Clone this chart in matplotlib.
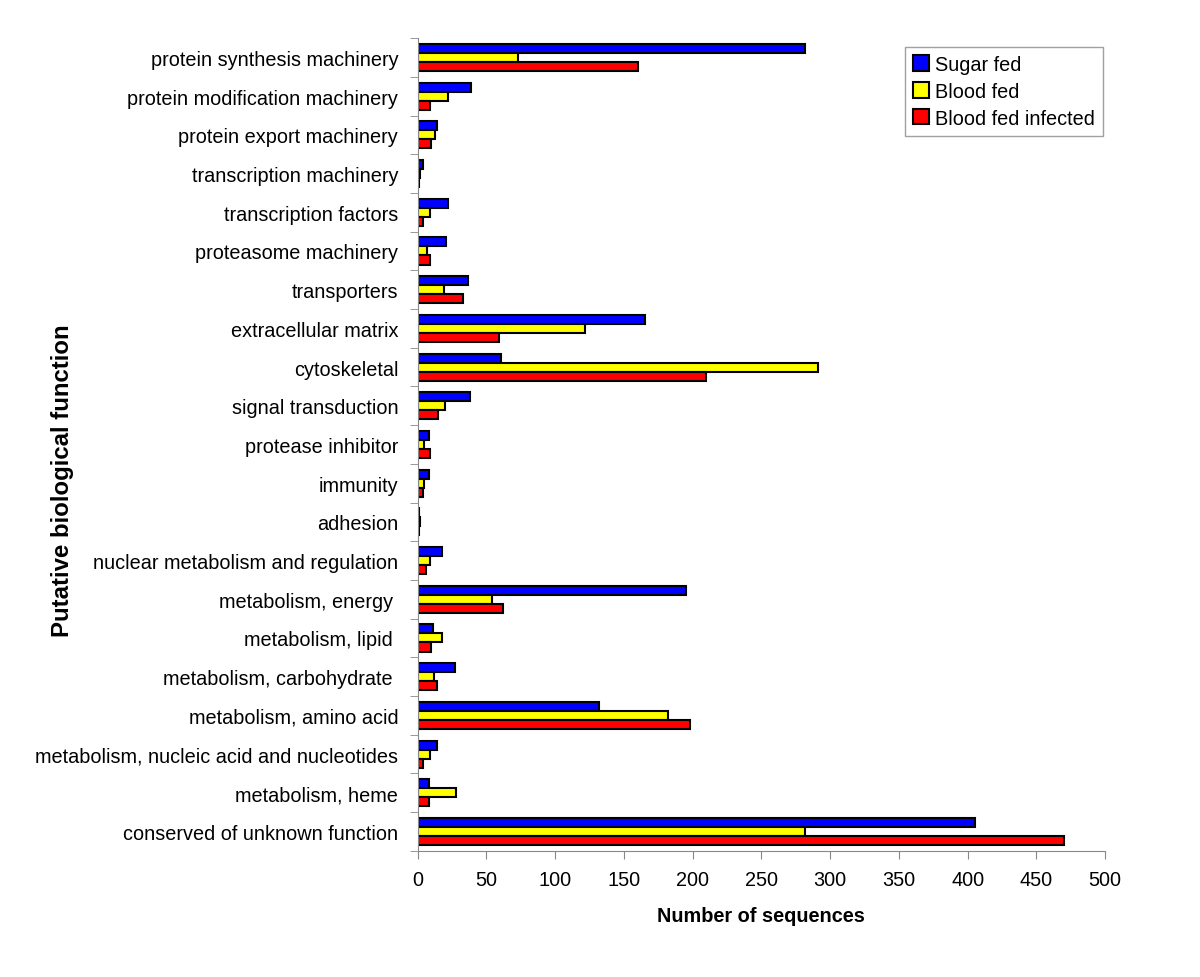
import numpy as np
import matplotlib.pyplot as plt

plt.rcParams['font.family'] = ['Liberation Sans', 'DejaVu Sans']

categories = [
    "protein synthesis machinery",
    "protein modification machinery",
    "protein export machinery",
    "transcription machinery",
    "transcription factors",
    "proteasome machinery",
    "transporters",
    "extracellular matrix",
    "cytoskeletal",
    "signal transduction",
    "protease inhibitor",
    "immunity",
    "adhesion",
    "nuclear metabolism and regulation",
    "metabolism, energy ",
    "metabolism, lipid ",
    "metabolism, carbohydrate ",
    "metabolism, amino acid",
    "metabolism, nucleic acid and nucleotides",
    "metabolism, heme",
    "conserved of unknown function",
]
sugar_fed = [282, 39, 14, 4, 22, 21, 37, 165, 61, 38, 8, 8, 1, 18, 195, 11, 27, 132, 14, 8, 405]
blood_fed = [73, 22, 13, 2, 9, 7, 19, 122, 291, 20, 5, 5, 2, 9, 54, 18, 12, 182, 9, 28, 282]
blood_fed_infected = [160, 9, 10, 1, 4, 9, 33, 59, 210, 15, 9, 4, 1, 6, 62, 10, 14, 198, 4, 8, 470]

series = [("Sugar fed", sugar_fed, "#0000ff"),
          ("Blood fed", blood_fed, "#ffff00"),
          ("Blood fed infected", blood_fed_infected, "#ff0000")]

fig = plt.figure(figsize=(12, 9.78), dpi=100)
ax = fig.add_axes([0.348, 0.129, 0.573, 0.831])

n = len(categories)
y = np.arange(n)
h = 0.233
for i, (name, vals, col) in enumerate(series):
    ax.barh(y + (i - 1) * h, vals, height=h, color=col, edgecolor='black',
            linewidth=1.5, label=name)

ax.set_ylim(n - 0.5, -0.5)
ax.set_xlim(0, 500)
ax.set_xticks(np.arange(0, 501, 50))
ax.set_yticks(y)
ax.set_yticklabels(categories, fontsize=14.3)
ax.set_yticks(np.arange(-0.5, n, 1), minor=True)
ax.tick_params(axis='y', which='major', length=0, pad=14)
ax.tick_params(axis='y', which='minor', length=6, color='#888888')
ax.tick_params(axis='x', length=6, color='#888888', labelsize=14.3, pad=8)

for s in ['top', 'right']:
    ax.spines[s].set_visible(False)
for s in ['left', 'bottom']:
    ax.spines[s].set_color('#888888')

ax.set_xlabel("Number of sequences", fontsize=14.3, fontweight='bold', labelpad=12)
fig.text(0.052, 0.509, "Putative biological function", rotation=90,
         fontsize=17.3, fontweight='bold', ha='center', va='center')

leg = ax.legend(loc='upper right', bbox_to_anchor=(0.919, 0.951),
                bbox_transform=fig.transFigure, borderaxespad=0, fontsize=14.3,
                frameon=True, fancybox=False, handlelength=0.8, handleheight=0.8,
                handletextpad=0.3, borderpad=0.4, labelspacing=0.4)
leg.get_frame().set_edgecolor('#888888')
leg.get_frame().set_linewidth(1)

fig.savefig("out.png", dpi=100)
